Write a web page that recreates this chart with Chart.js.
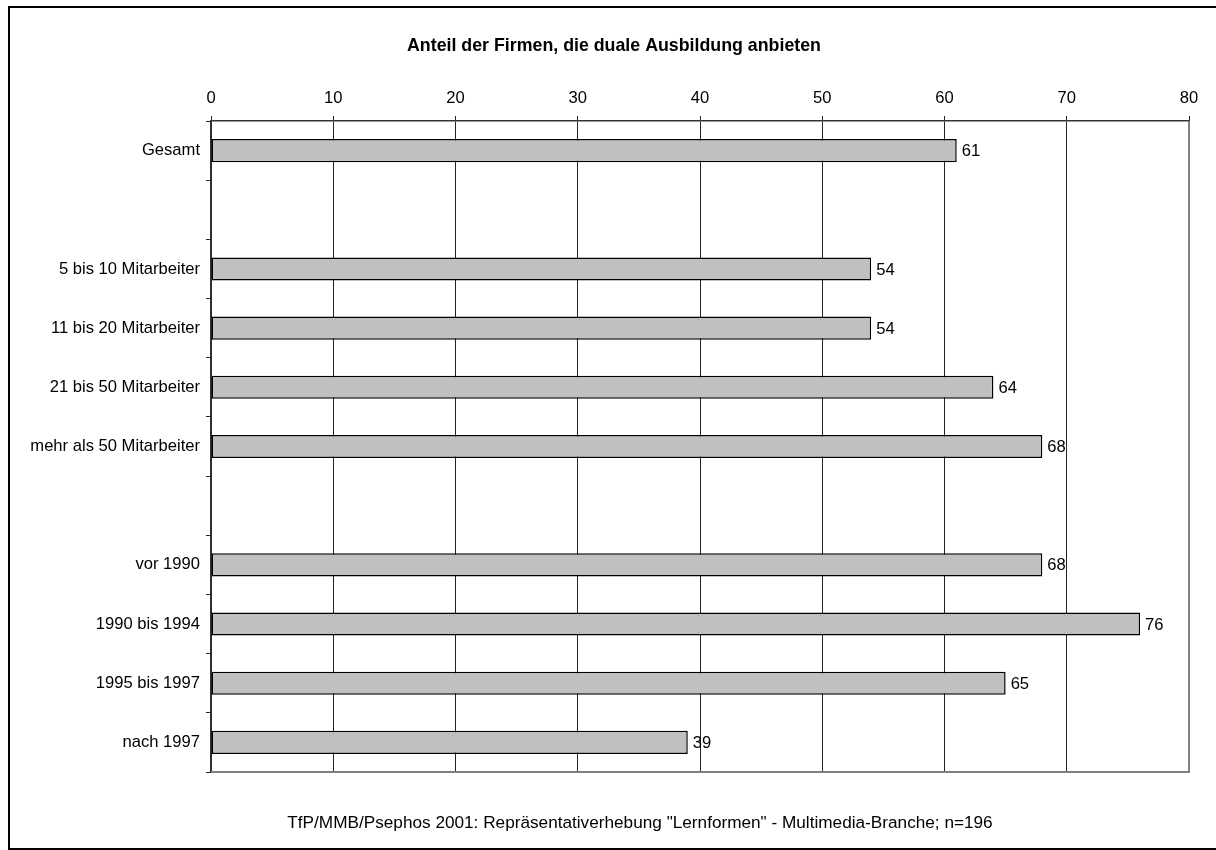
<!DOCTYPE html>
<html lang="de">
<head>
<meta charset="utf-8">
<title>Anteil der Firmen, die duale Ausbildung anbieten</title>
<script src="https://cdn.jsdelivr.net/npm/chart.js@4/dist/chart.umd.min.js"></script>
<style>
  html, body { margin: 0; padding: 0; background: #fff; }
  canvas { display: block; }
</style>
</head>
<body>
<canvas id="chart" width="1216" height="850"></canvas>
<script>
// Row labels (empty rows separate the groups)
const categories = [
  'Gesamt',
  '',
  '5 bis 10 Mitarbeiter',
  '11 bis 20 Mitarbeiter',
  '21 bis 50 Mitarbeiter',
  'mehr als 50 Mitarbeiter',
  '',
  'vor 1990',
  '1990 bis 1994',
  '1995 bis 1997',
  'nach 1997'
];

// Share of firms offering dual vocational training, in percent
const shares = [61, null, 54, 54, 64, 68, null, 68, 76, 65, 39];

// Value axis range and step
const axisMin = 0;
const axisMax = 80;
const axisStep = 10;

const titleText = 'Anteil der Firmen, die duale Ausbildung anbieten';
const sourceText = 'TfP/MMB/Psephos 2001: Repräsentativerhebung "Lernformen" - Multimedia-Branche; n=196';

const FONT_FAMILY = "'Liberation Sans', Arial, Helvetica, sans-serif";
const FONT_SIZE = 16.6;

// Frame, title, source line, plot border and value labels
const decor = {
  id: 'decor',
  beforeDraw(chart) {
    const ctx = chart.ctx;
    ctx.save();
    ctx.fillStyle = '#ffffff';
    ctx.fillRect(0, 0, chart.width, chart.height);
    ctx.restore();
  },
  afterDatasetsDraw(chart) {
    const ctx = chart.ctx;
    const meta = chart.getDatasetMeta(0);
    ctx.save();
    ctx.font = FONT_SIZE + 'px ' + FONT_FAMILY;
    ctx.fillStyle = '#000';
    ctx.textAlign = 'left';
    ctx.textBaseline = 'middle';
    meta.data.forEach((bar, i) => {
      const v = shares[i];
      if (v === null || v === undefined) return;
      ctx.fillText(String(v), bar.x + 5, bar.y + 1);
    });
    ctx.restore();
  },
  afterDraw(chart) {
    const ctx = chart.ctx;
    const a = chart.chartArea;
    ctx.save();

    // grey border on the right and bottom of the plot area
    ctx.strokeStyle = '#808080';
    ctx.lineWidth = 2;
    ctx.beginPath();
    ctx.moveTo(a.right, a.top);
    ctx.lineTo(a.right, a.bottom);
    ctx.lineTo(a.left, a.bottom);
    ctx.stroke();

    // outer frame
    ctx.strokeStyle = '#000';
    ctx.lineWidth = 2;
    ctx.strokeRect(9, 7, chart.width + 10, 842);

    // title
    ctx.fillStyle = '#000';
    ctx.textAlign = 'center';
    ctx.textBaseline = 'middle';
    ctx.font = 'bold 17.8px ' + FONT_FAMILY;
    ctx.fillText(titleText, 614, 46);

    // source line
    ctx.font = '17.2px ' + FONT_FAMILY;
    ctx.fillText(sourceText, 640, 823);

    ctx.restore();
  }
};

new Chart(document.getElementById('chart'), {
  type: 'bar',
  data: {
    labels: categories,
    datasets: [{
      data: shares,
      backgroundColor: '#c0c0c0',
      borderColor: '#000000',
      borderWidth: 1.5,
      borderSkipped: false,
      categoryPercentage: 1,
      barPercentage: 0.39
    }]
  },
  options: {
    indexAxis: 'y',
    responsive: false,
    animation: false,
    devicePixelRatio: 1,
    layout: { padding: { left: 0, top: 0, right: 27, bottom: 78 } },
    plugins: {
      legend: { display: false },
      title: { display: false },
      tooltip: { enabled: false }
    },
    scales: {
      x: {
        position: 'top',
        min: axisMin,
        max: axisMax,
        afterFit(scale) { scale.height = 121; },
        ticks: {
          stepSize: axisStep,
          color: '#000',
          padding: 8,
          font: { family: FONT_FAMILY, size: FONT_SIZE }
        },
        grid: {
          color: '#222',
          lineWidth: 1,
          tickLength: 5,
          drawTicks: true
        },
        border: { color: '#333', width: 1.6 }
      },
      y: {
        afterFit(scale) { scale.width = 211; },
        ticks: {
          color: '#000',
          padding: 6,
          autoSkip: false,
          font: { family: FONT_FAMILY, size: FONT_SIZE }
        },
        grid: {
          offset: true,
          drawOnChartArea: false,
          drawTicks: true,
          tickLength: 5,
          color: '#222',
          lineWidth: 1
        },
        border: { color: '#333', width: 1.6 }
      }
    }
  },
  plugins: [decor]
});
</script>
</body>
</html>
